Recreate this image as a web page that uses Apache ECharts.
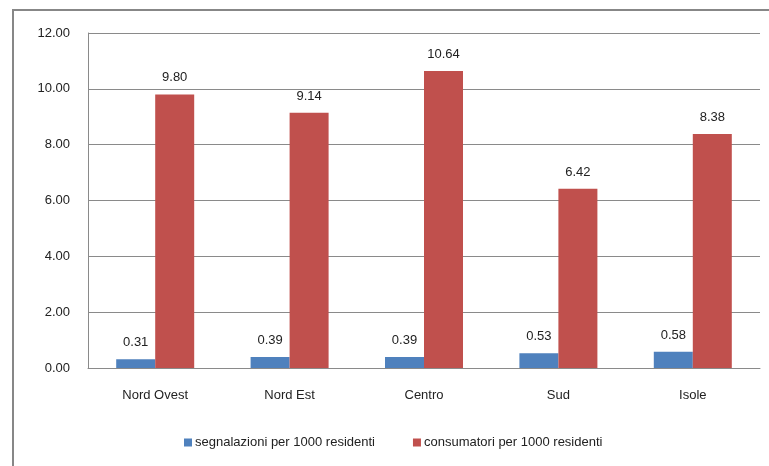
<!DOCTYPE html>
<html>
<head>
<meta charset="utf-8">
<script src="https://cdn.jsdelivr.net/npm/echarts@6/dist/echarts.min.js"></script>
<style>
  html, body { margin: 0; padding: 0; background: #fff; }
  #chart { width: 769px; height: 466px; }
</style>
</head>
<body>
<div id="chart"></div>
<script>
var categories = ['Nord Ovest', 'Nord Est', 'Centro', 'Sud', 'Isole'];
var segnalazioni = [0.31, 0.39, 0.39, 0.53, 0.58];
var consumatori = [9.80, 9.14, 10.64, 6.42, 8.38];
var seriesNames = ['segnalazioni per 1000 residenti', 'consumatori per 1000 residenti'];

var chart = echarts.init(document.getElementById('chart'));
var font = 'Liberation Sans';

// etichette sopra le barre
var barLabel = {
    show: true,
    position: 'top',
    distance: 10,
    color: '#222',
    fontSize: 13,
    fontFamily: font,
    formatter: function (p) { return p.value.toFixed(2); }
};

var option = {
    animation: false,
    textStyle: { fontFamily: font },
    graphic: [{
        type: 'rect',
        shape: { x: 13, y: 10, width: 780, height: 480 },
        style: { fill: 'none', stroke: '#878787', lineWidth: 2 },
        silent: true
    }],
    grid: { left: 88, top: 33, right: 9, bottom: 98, containLabel: false },
    legend: {
        bottom: 17,
        left: 184,
        padding: 0,
        itemWidth: 8,
        itemHeight: 8,
        itemGap: 38,
        icon: 'rect',
        textStyle: { fontSize: 13, color: '#222', fontFamily: font, padding: [0, 0, 0, -2] },
        data: seriesNames
    },
    xAxis: {
        type: 'category',
        data: categories,
        axisLine: { lineStyle: { color: '#8a8a8a', width: 1 } },
        axisTick: { show: false },
        axisLabel: { color: '#222', fontSize: 13, margin: 21 }
    },
    yAxis: {
        type: 'value',
        min: 0,
        max: 12,
        interval: 2,
        axisLine: { show: true, lineStyle: { color: '#8a8a8a' } },
        axisTick: { show: false },
        splitLine: { lineStyle: { color: '#8a8a8a' } },
        axisLabel: {
            color: '#222',
            fontSize: 13,
            margin: 18,
            formatter: function (v) { return v.toFixed(2); }
        }
    },
    series: [
        {
            name: seriesNames[0],
            type: 'bar',
            data: segnalazioni,
            barWidth: 39,
            barGap: '0%',
            itemStyle: { color: '#4F81BD' },
            label: barLabel
        },
        {
            name: seriesNames[1],
            type: 'bar',
            data: consumatori,
            barWidth: 39,
            barGap: '0%',
            itemStyle: { color: '#C0504D' },
            label: barLabel
        }
    ]
};

chart.setOption(option);
</script>
</body>
</html>
